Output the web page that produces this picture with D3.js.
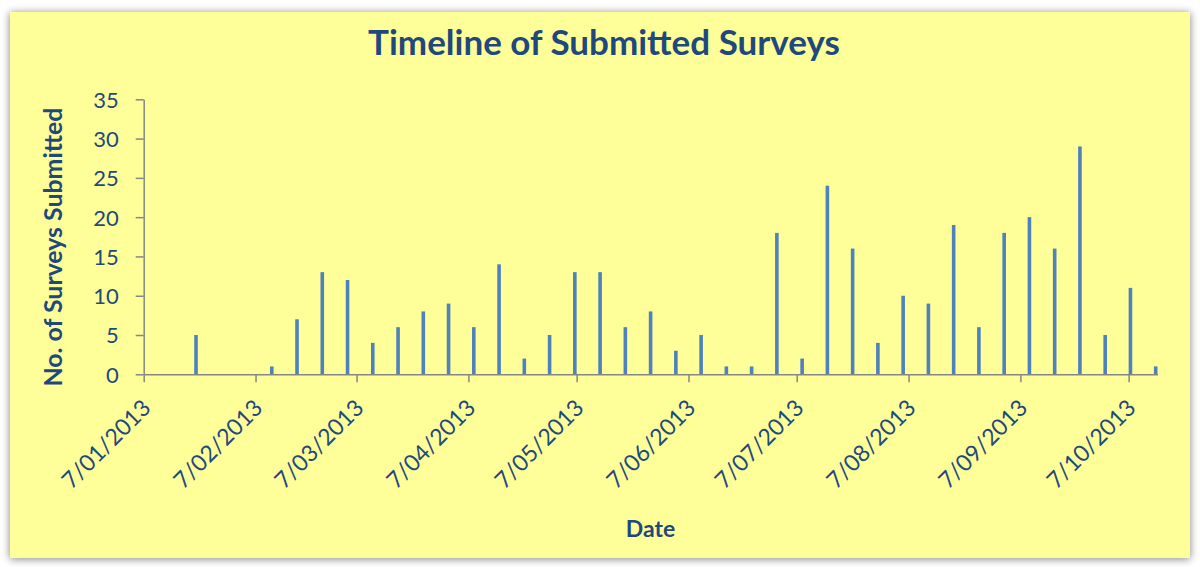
<!DOCTYPE html>
<html>
<head>
<meta charset="utf-8">
<script src="https://cdn.jsdelivr.net/npm/d3@7"></script>
<style>
  html, body { margin: 0; padding: 0; background: #ffffff; }
  svg { display: block; }
  text { font-family: Lato, "Open Sans", sans-serif; }
</style>
</head>
<body>
<svg id="chart" width="1200" height="567"></svg>
<script>
// ---- data ----
const chartTitle = "Timeline of Submitted Surveys";
const xTitle = "Date";
const yTitle = "No. of Surveys Submitted";
const submissionDates = [
  "2013-01-21", "2013-02-11", "2013-02-18", "2013-02-25", "2013-03-04", "2013-03-11",
  "2013-03-18", "2013-03-25", "2013-04-01", "2013-04-08", "2013-04-15", "2013-04-22",
  "2013-04-29", "2013-05-06", "2013-05-13", "2013-05-20", "2013-05-27", "2013-06-03",
  "2013-06-10", "2013-06-17", "2013-06-24", "2013-07-01", "2013-07-08", "2013-07-15",
  "2013-07-22", "2013-07-29", "2013-08-05", "2013-08-12", "2013-08-19", "2013-08-26",
  "2013-09-02", "2013-09-09", "2013-09-16", "2013-09-23", "2013-09-30", "2013-10-07",
  "2013-10-14"
];
const submissionCounts = [
  5, 1, 7, 13, 12, 4,
  6, 8, 9, 6, 14, 2,
  5, 13, 13, 6, 8, 3,
  5, 1, 1, 18, 2, 24,
  16, 4, 10, 9, 19, 6,
  18, 20, 16, 29, 5, 11,
  1
];
const xDomain = ["2013-01-07", "2013-10-15"];
const xTickDates = ["2013-01-07", "2013-02-07", "2013-03-07", "2013-04-07", "2013-05-07",
                    "2013-06-07", "2013-07-07", "2013-08-07", "2013-09-07", "2013-10-07"];
const yTickValues = [0, 5, 10, 15, 20, 25, 30, 35];

// ---- setup ----
const parse = d3.utcParse("%Y-%m-%d");
const fmt = d3.utcFormat("%-d/%m/%Y");
const data = submissionDates.map((d, i) => ({ date: parse(d), value: submissionCounts[i] }));

const svg = d3.select("#chart");
const textColor = "#1f497d";
const axisColor = "#868686";
const barColor = "#4f81bd";

const plot = { left: 143.7, right: 1157.5, top: 99.3, bottom: 374.3 };

// background panel with soft shadow
const defs = svg.append("defs");
const f = defs.append("filter").attr("id", "shadow")
  .attr("x", "-5%").attr("y", "-5%").attr("width", "110%").attr("height", "110%");
f.append("feGaussianBlur").attr("in", "SourceAlpha").attr("stdDeviation", 4).attr("result", "blur");
f.append("feOffset").attr("in", "blur").attr("dx", 0).attr("dy", 1).attr("result", "off");
f.append("feComponentTransfer").attr("in", "off").attr("result", "sh")
  .append("feFuncA").attr("type", "linear").attr("slope", 0.5);
const fm = f.append("feMerge");
fm.append("feMergeNode").attr("in", "sh");
fm.append("feMergeNode").attr("in", "SourceGraphic");

svg.append("rect")
  .attr("x", 10).attr("y", 12).attr("width", 1180).attr("height", 546)
  .attr("fill", "#ffff99")
  .attr("filter", "url(#shadow)");

// scales
const x = d3.scaleUtc().domain(xDomain.map(parse)).range([plot.left, plot.right]);
const y = d3.scaleLinear().domain([0, 35]).range([plot.bottom, plot.top]);

// bars (one day wide, Excel date-axis style)
svg.append("g").selectAll("rect")
  .data(data)
  .join("rect")
  .attr("x", d => x(d.date))
  .attr("width", d => x(d3.utcDay.offset(d.date, 1)) - x(d.date))
  .attr("y", d => y(d.value))
  .attr("height", d => y(0) - y(d.value))
  .attr("fill", barColor);

// y axis
const yAxis = svg.append("g")
  .attr("transform", `translate(${plot.left},0)`)
  .call(d3.axisLeft(y).tickValues(yTickValues).tickSize(8).tickPadding(17).tickSizeOuter(0));
yAxis.select(".domain").attr("stroke", axisColor).attr("stroke-width", 1.5);
yAxis.selectAll(".tick line").attr("stroke", axisColor).attr("stroke-width", 1.5);
yAxis.selectAll(".tick text")
  .attr("fill", textColor).attr("font-size", 22).attr("font-family", "Lato, sans-serif")
  .attr("dy", "0.36em");

// x axis
const xAxis = svg.append("g")
  .attr("transform", `translate(0,${plot.bottom})`)
  .call(d3.axisBottom(x).tickValues(xTickDates.map(parse)).tickFormat(fmt)
    .tickSize(8).tickSizeOuter(0));
xAxis.select(".domain").attr("stroke", axisColor).attr("stroke-width", 1.5);
xAxis.selectAll(".tick line").attr("stroke", axisColor).attr("stroke-width", 1.5);
xAxis.selectAll(".tick text")
  .attr("fill", textColor).attr("font-size", 23).attr("font-family", "Lato, sans-serif")
  .attr("text-anchor", "end")
  .attr("x", 0).attr("y", 0).attr("dy", 0)
  .attr("transform", "translate(8,35) rotate(-45)");

// helper to fit text width
function fitWidth(sel, target) {
  const w = sel.node().getComputedTextLength();
  const fs = parseFloat(sel.attr("font-size"));
  sel.attr("font-size", fs * target / w);
}

// title
const title = svg.append("text")
  .attr("x", 604).attr("y", 55)
  .attr("text-anchor", "middle")
  .attr("font-size", 30).attr("font-weight", "bold")
  .attr("fill", textColor)
  .text(chartTitle);
fitWidth(title, 472);

// x title
const xt = svg.append("text")
  .attr("x", (plot.left + plot.right) / 2).attr("y", 537)
  .attr("text-anchor", "middle")
  .attr("font-size", 23).attr("font-weight", "bold")
  .attr("fill", textColor)
  .text(xTitle);

// y title
const yt = svg.append("text")
  .attr("transform", `translate(62,247) rotate(-90)`)
  .attr("text-anchor", "middle")
  .attr("font-size", 22).attr("font-weight", "bold")
  .attr("fill", textColor)
  .text(yTitle);
fitWidth(yt, 279);
</script>
</body>
</html>
